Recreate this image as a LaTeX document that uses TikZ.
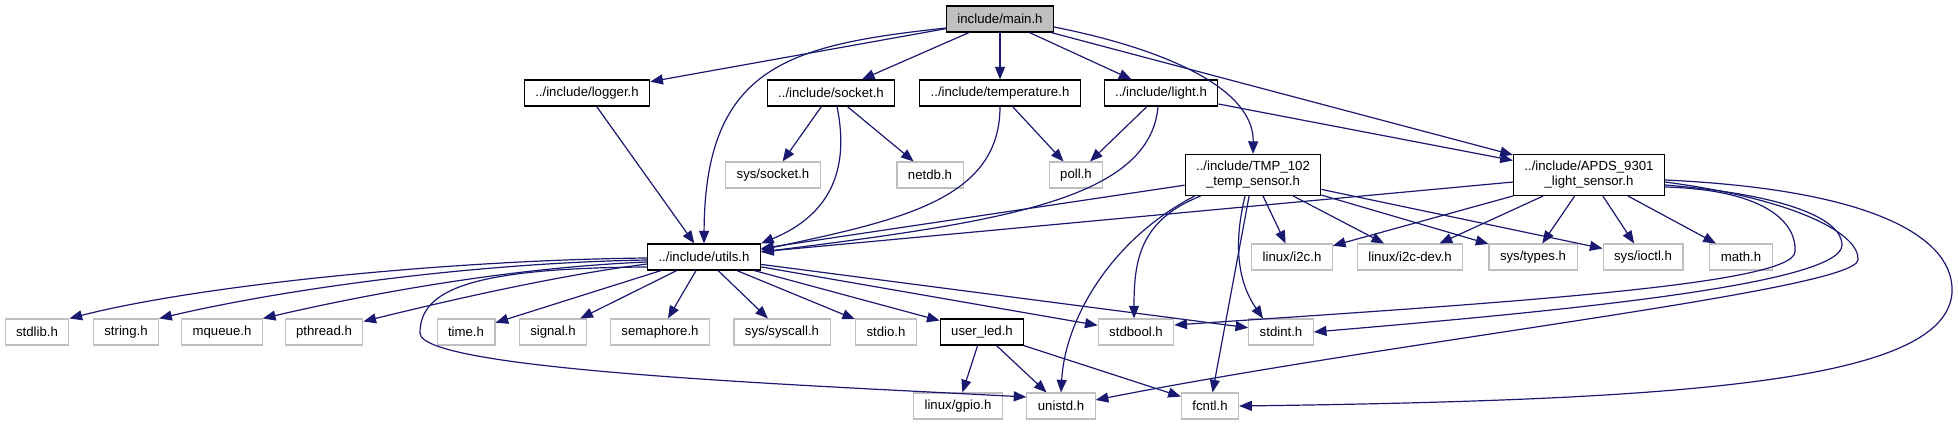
\documentclass[tikz,border=0pt]{standalone}
\usepackage{fontspec}
\setmainfont{Liberation Sans}
\usetikzlibrary{arrows.meta, calc, positioning}
\definecolor{EdgeBlue}{RGB}{25,25,112}
\definecolor{BoxGrey}{RGB}{191,191,191}
\tikzset{
  >={Triangle[length=9.5pt,width=7.5pt]},
  % Nodi per i file header
  file/.style={draw=black,line width=0.8pt,rectangle,inner xsep=8.25pt,inner ysep=0pt,minimum height=19.5pt,font=\fontsize{9.9}{11.25}\selectfont,align=center},
  file main/.style={file,fill=BoxGrey},
  file sys/.style={file,draw=BoxGrey},
  file two/.style={file,minimum height=30.75pt},
  % Connessioni
  incl/.style={->,line width=0.9pt,EdgeBlue}
}

\begin{document}
\begin{tikzpicture}[x=0.75pt,y=-0.75pt]
        \useasboundingbox (0,0) rectangle (1958,425);
        \node[file main] (main) at (1000,19) {include/main.h};
        \node[file] (logger) at (587,93) {../include/logger.h};
        \node[file] (socket) at (831,93) {../include/socket.h};
        \node[file] (temp) at (1000,93) {../include/temperature.h};
        \node[file] (light) at (1161,93) {../include/light.h};
        \node[file two] (tmp) at (1253,175) {../include/TMP\_102\\\_temp\_sensor.h};
        \node[file two] (apds) at (1589,175) {../include/APDS\_9301\\\_light\_sensor.h};
        \node[file sys] (syssock) at (773,175) {sys/socket.h};
        \node[file sys] (netdb) at (930,175) {netdb.h};
        \node[file sys] (poll) at (1076,175) {poll.h};
        \node[file] (utils) at (704,257) {../include/utils.h};
        \node[file sys] (i2c) at (1292,257) {linux/i2c.h};
        \node[file sys] (i2cdev) at (1410,257) {linux/i2c-dev.h};
        \node[file sys] (types) at (1533,257) {sys/types.h};
        \node[file sys] (ioctl) at (1643,257) {sys/ioctl.h};
        \node[file sys] (math) at (1741,257) {math.h};
        \node[file sys] (stdlib) at (37,332) {stdlib.h};
        \node[file sys] (string) at (126,332) {string.h};
        \node[file sys] (mqueue) at (222,332) {mqueue.h};
        \node[file sys] (pthread) at (324,332) {pthread.h};
        \node[file sys] (time) at (466,332) {time.h};
        \node[file sys] (signal) at (553,332) {signal.h};
        \node[file sys] (sem) at (660,332) {semaphore.h};
        \node[file sys] (syscall) at (782,332) {sys/syscall.h};
        \node[file sys] (stdio) at (886,332) {stdio.h};
        \node[file] (led) at (982,332) {user\_led.h};
        \node[file sys] (stdbool) at (1136,332) {stdbool.h};
        \node[file sys] (stdint) at (1281,332) {stdint.h};
        \node[file sys] (gpio) at (958,406) {linux/gpio.h};
        \node[file sys] (unistd) at (1061,406) {unistd.h};
        \node[file sys] (fcntl) at (1210,406) {fcntl.h};
        \draw[incl] (main) -- (logger); \draw[incl] (main) -- (socket); \draw[incl] (main) -- (temp);
        \draw[incl] (main) -- (light); \draw[incl] (main) -- (apds);
        \draw[incl] ($(main.east)+(0,8)$) .. controls (1170,50) and (1254,90) .. (tmp.north);
        \draw[incl] ($(main.west)+(0,9)$) .. controls (790,45) and (705,65) .. (utils.north);
        \draw[incl] (logger) -- (utils);
        \draw[incl] (socket) -- (syssock); \draw[incl] (socket) -- (netdb);
        \draw[incl] ($(socket.south)+(6,0)$) .. controls (850,170) and (830,215) .. (utils.north east);
        \draw[incl] (temp) -- (poll);
        \draw[incl] (temp.south) .. controls (1000,200) and (900,220) .. ($(utils.east)+(0,-7)$);
        \draw[incl] (light) -- (poll); \draw[incl] (light) -- (apds);
        \draw[incl] ($(light.south)+(-3,0)$) .. controls (1150,200) and (1000,222) .. ($(utils.east)+(0,-5)$);
        \draw[incl] (tmp) -- (utils); \draw[incl] (tmp) -- (i2c); \draw[incl] (tmp) -- (i2cdev);
        \draw[incl] (tmp) -- (types); \draw[incl] (tmp) -- (ioctl); \draw[incl] (tmp) -- (fcntl);
        \draw[incl] ($(tmp.south)+(-8,0)$) .. controls (1232,250) and (1240,285) .. ($(stdint.north)+(-18,0)$);
        \draw[incl] ($(tmp.south west)+(16,0)$) .. controls (1140,220) and (1134,260) .. ($(stdbool.north)+(-2,0)$);
        \draw[incl] ($(tmp.south west)+(10,0)$) .. controls (1110,240) and (1065,320) .. (unistd.north);
        \draw[incl] (apds) -- (utils); \draw[incl] (apds) -- (i2c); \draw[incl] (apds) -- (i2cdev);
        \draw[incl] (apds) -- (types); \draw[incl] (apds) -- (ioctl); \draw[incl] (apds) -- (math);
        \draw[incl] ($(apds.east)+(0,12)$) .. controls (1770,190) and (1797,225) .. (1795,252)
          .. controls (1792,285) and (1500,303) .. ($(stdbool.east)+(0,-7)$);
        \draw[incl] ($(apds.east)+(0,10)$) .. controls (1790,195) and (1842,220) .. (1842,245)
          .. controls (1842,285) and (1550,312) .. (stdint.east);
        \draw[incl] ($(apds.east)+(0,7)$) .. controls (1800,200) and (1860,235) .. (1858,260)
          .. controls (1855,290) and (1400,340) .. ($(unistd.east)+(0,-6)$);
        \draw[incl] ($(apds.east)+(0,5)$) .. controls (1880,190) and (1955,240) .. (1952,293)
          .. controls (1945,380) and (1700,400) .. (fcntl.east);
        \draw[incl] ($(utils.west)+(0,1)$) .. controls (450,260) and (200,285) .. (stdlib.north east);
        \draw[incl] ($(utils.west)+(0,3)$) .. controls (470,263) and (280,290) .. (string.north east);
        \draw[incl] ($(utils.west)+(0,5)$) .. controls (500,268) and (350,298) .. (mqueue.north east);
        \draw[incl] ($(utils.west)+(0,7)$) .. controls (560,275) and (450,300) .. ($(pthread.north east)+(0,3)$);
        \draw[incl] ($(utils.west)+(0,10)$) .. controls (470,268) and (420,290) .. (420,333)
          .. controls (420,370) and (800,385) .. ($(unistd.west)+(0,-9)$);
        \draw[incl] (utils) -- (time); \draw[incl] (utils) -- (signal); \draw[incl] (utils) -- (sem);
        \draw[incl] (utils) -- (syscall); \draw[incl] (utils) -- (stdio); \draw[incl] (utils) -- (led);
        \draw[incl] (utils) -- (stdbool); \draw[incl] (utils) -- (stdint);
        \draw[incl] (led) -- (gpio); \draw[incl] (led) -- (unistd); \draw[incl] (led) -- (fcntl);
      \end{tikzpicture}
\end{document}
